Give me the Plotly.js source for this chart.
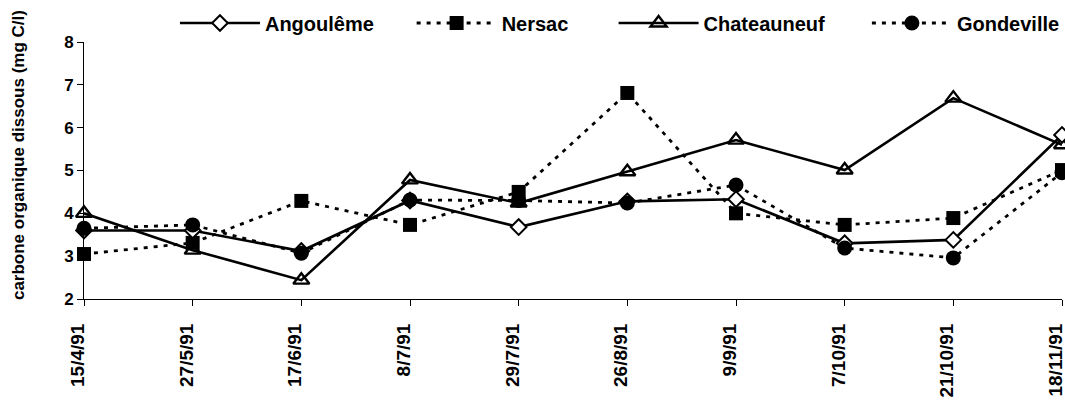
<!DOCTYPE html>
<html>
<head>
<meta charset="utf-8">
<script src="https://cdn.plot.ly/plotly-3.0.1.min.js"></script>
<style>html,body{margin:0;padding:0;background:#fff;}#chart{width:1065px;height:409px;}</style>
</head>
<body>
<div id="chart"></div>
<script>
const dates = ['15/4/91','27/5/91','17/6/91','8/7/91','29/7/91','26/8/91','9/9/91','7/10/91','21/10/91','18/11/91'];
const angouleme   = [3.6, 3.6, 3.12, 4.3, 3.68, 4.28, 4.33, 3.3, 3.38, 5.83];
const nersac      = [3.05, 3.31, 4.29, 3.73, 4.5, 6.81, 4.0, 3.73, 3.89, 5.01];
const chateauneuf = [4.0, 3.14, 2.44, 4.78, 4.24, 4.97, 5.71, 5.01, 6.69, 5.6];
const gondeville  = [3.65, 3.73, 3.07, 4.31, 4.3, 4.24, 4.66, 3.19, 2.96, 4.95];
const yTitle = 'carbone organique dissous (mg C/l)';

const FONT = 'Arial, "Liberation Sans", Helvetica, sans-serif';

const traces = [
  {name:'Chateauneuf', x:dates, y:chateauneuf, mode:'lines+markers', legend:'legend3',
   line:{color:'#000', width:2.6},
   marker:{symbol:'triangle-up-open', size:14, color:'#000', line:{color:'#000', width:2.4}}, cliponaxis:false},
  {name:'Nersac', x:dates, y:nersac, mode:'lines+markers', legend:'legend2',
   line:{color:'#000', width:2.8, dash:'4px,6px'},
   marker:{symbol:'square', size:14, color:'#000'}, cliponaxis:false},
  {name:'Angoulême', x:dates, y:angouleme, mode:'lines+markers', legend:'legend',
   line:{color:'#000', width:2.6},
   marker:{symbol:'diamond', size:12, color:'#fff', line:{color:'#000', width:2}}, cliponaxis:false},
  {name:'Gondeville', x:dates, y:gondeville, mode:'lines+markers', legend:'legend4',
   line:{color:'#000', width:2.8, dash:'4px,6px'},
   marker:{symbol:'circle', size:15, color:'#000'}, cliponaxis:false}
];

function leg(x){
  return {x:x, y:1.074, xanchor:'left', yanchor:'middle', orientation:'h',
    itemwidth:80, bgcolor:'rgba(0,0,0,0)', borderwidth:0,
    font:{family:FONT, size:20, weight:'bold', color:'#000'}};
}

const layout = {
  width:1065, height:409,
  margin:{l:84, r:3, t:42, b:110, autoexpand:false},
  paper_bgcolor:'#fff', plot_bgcolor:'#fff',
  showlegend:true,
  legend:leg(0.0930),
  legend2:leg(0.3350),
  legend3:leg(0.5415),
  legend4:leg(0.8005),
  xaxis:{type:'category', range:[0,9], showgrid:false, zeroline:false,
    showline:true, linecolor:'#000', linewidth:1,
    ticks:'outside', ticklen:6, tickcolor:'#000', tickwidth:1,
    tickangle:-90, ticklabelstandoff:10, ticklabelshift:-6,
    tickfont:{family:FONT, size:19, weight:'bold', color:'#000'}},
  yaxis:{range:[2,8], dtick:1, showgrid:false, zeroline:false,
    showline:true, linecolor:'#000', linewidth:1,
    ticks:'outside', ticklen:6, tickcolor:'#000', tickwidth:1,
    tickfont:{family:FONT, size:17, weight:'bold', color:'#000'}},
  annotations:[{text:yTitle, xref:'paper', yref:'paper', x:-0.0675, y:0.56,
    xanchor:'center', yanchor:'middle', textangle:-90, showarrow:false,
    font:{family:FONT, size:17, weight:'bold', color:'#000'}}]
};

Plotly.newPlot('chart', traces, layout, {displayModeBar:false, staticPlot:true});
</script>
</body>
</html>
